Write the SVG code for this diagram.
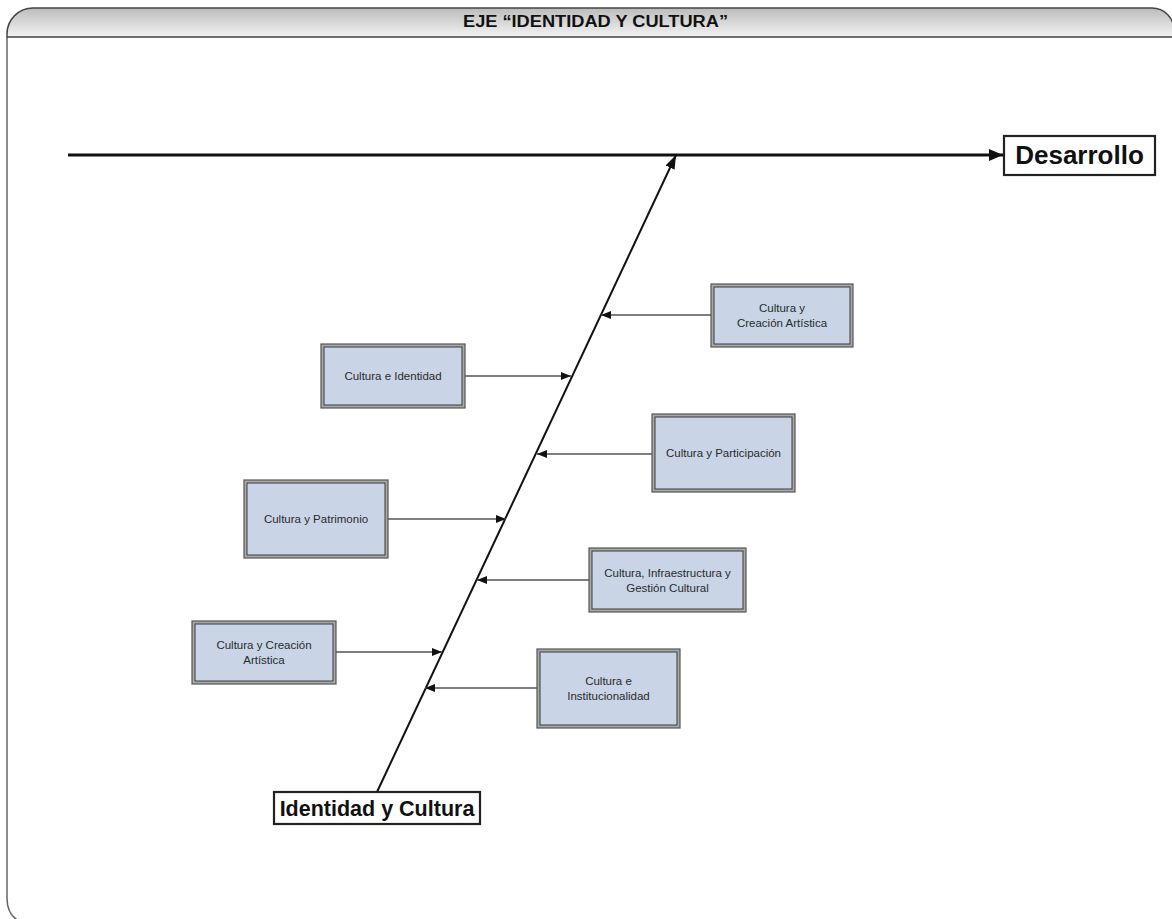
<svg xmlns="http://www.w3.org/2000/svg" width="1172" height="919" viewBox="0 0 1172 919">
<style>
.frame{fill:none;stroke:#666;stroke-width:1.5}
.hdr{fill:url(#hg);stroke:#444;stroke-width:1.5}
.title{font-family:"Liberation Sans",Arial,sans-serif;font-weight:bold;font-size:16px;fill:#111}
.outer{fill:#a9a9a9;stroke:#555;stroke-width:1.2}
.inner{fill:#c9d5e6;stroke:#3a3a3a;stroke-width:1}
.lbl{font-family:"Liberation Sans",Arial,sans-serif;font-size:11.5px;fill:#2a2a2a;text-anchor:middle}
.big{font-family:"Liberation Sans",Arial,sans-serif;font-weight:bold;fill:#111;text-anchor:middle}
.bigbox{fill:#fff;stroke:#222;stroke-width:2.2}
.branch{stroke:#555;stroke-width:1.5;fill:none}
</style>
<defs>
<linearGradient id="hg" x1="0" y1="0" x2="0" y2="1">
<stop offset="0" stop-color="#bcbcbc"/>
<stop offset="1" stop-color="#f3f3f3"/>
</linearGradient>
<marker id="aS" markerUnits="userSpaceOnUse" markerWidth="10" markerHeight="8" refX="10" refY="4" orient="auto">
<path d="M0,0 L10,4 L0,8 z" fill="#111"/>
</marker>
<marker id="aB" markerUnits="userSpaceOnUse" markerWidth="14" markerHeight="12" refX="14" refY="6" orient="auto">
<path d="M0,0 L14,6 L0,12 z" fill="#111"/>
</marker>
<marker id="aD" markerUnits="userSpaceOnUse" markerWidth="14" markerHeight="10" refX="14" refY="5" orient="auto">
<path d="M0,0 L14,5 L0,10 z" fill="#111"/>
</marker>
</defs>
<rect width="1172" height="919" fill="#fff"/>
<g id="frame">
<path class="frame" d="M7,37 V898 Q7,920 28,924"/>
<path class="hdr" d="M7,37 V34 A26,26 0 0 1 33,8 H1152 A22,22 0 0 1 1174,30 V37 Z"/>
<text class="title" x="463" y="27" textLength="265" lengthAdjust="spacingAndGlyphs">EJE “IDENTIDAD Y CULTURA”</text>
</g>
<g id="connectors">
<line x1="68" y1="155" x2="1003" y2="155" stroke="#111" stroke-width="3" marker-end="url(#aB)"/>
<line x1="377" y1="792" x2="676" y2="155" stroke="#111" stroke-width="2" marker-end="url(#aD)"/>
<line class="branch" x1="711" y1="315" x2="601" y2="315" marker-end="url(#aS)"/>
<line class="branch" x1="465" y1="376" x2="571" y2="376" marker-end="url(#aS)"/>
<line class="branch" x1="652" y1="454" x2="537" y2="454" marker-end="url(#aS)"/>
<line class="branch" x1="388" y1="519" x2="506" y2="519" marker-end="url(#aS)"/>
<line class="branch" x1="589" y1="580" x2="477" y2="580" marker-end="url(#aS)"/>
<line class="branch" x1="336" y1="652" x2="442" y2="652" marker-end="url(#aS)"/>
<line class="branch" x1="537" y1="688" x2="425" y2="688" marker-end="url(#aS)"/>
</g>
<g id="desarrollo">
<rect class="bigbox" x="1004" y="136" width="151" height="39"/>
<text class="big" x="1079.5" y="164" font-size="26">Desarrollo</text>
</g>
<g id="identidad-cultura">
<rect class="bigbox" x="274" y="792" width="206" height="32"/>
<text class="big" x="377" y="816" font-size="21.5">Identidad y Cultura</text>
</g>
<g id="r1">
<rect class="outer" x="711" y="284" width="142" height="63"/>
<rect class="inner" x="714" y="287" width="136" height="57"/>
<text class="lbl" x="782" y="312">Cultura y</text>
<text class="lbl" x="782" y="327">Creación Artística</text>
</g>
<g id="l1">
<rect class="outer" x="321" y="344" width="144" height="64"/>
<rect class="inner" x="324" y="347" width="138" height="58"/>
<text class="lbl" x="393" y="380">Cultura e Identidad</text>
</g>
<g id="r2">
<rect class="outer" x="652" y="414" width="143" height="78"/>
<rect class="inner" x="655" y="417" width="137" height="72"/>
<text class="lbl" x="723.5" y="457">Cultura y Participación</text>
</g>
<g id="l2">
<rect class="outer" x="244" y="480" width="144" height="78"/>
<rect class="inner" x="247" y="483" width="138" height="72"/>
<text class="lbl" x="316" y="523">Cultura y Patrimonio</text>
</g>
<g id="r3">
<rect class="outer" x="589" y="548" width="157" height="64"/>
<rect class="inner" x="592" y="551" width="151" height="58"/>
<text class="lbl" x="667.5" y="577">Cultura, Infraestructura y</text>
<text class="lbl" x="667.5" y="592">Gestión Cultural</text>
</g>
<g id="l3">
<rect class="outer" x="192" y="621" width="144" height="63"/>
<rect class="inner" x="195" y="624" width="138" height="57"/>
<text class="lbl" x="264" y="649">Cultura y Creación</text>
<text class="lbl" x="264" y="664">Artística</text>
</g>
<g id="r4">
<rect class="outer" x="537" y="649" width="143" height="79"/>
<rect class="inner" x="540" y="652" width="137" height="73"/>
<text class="lbl" x="608.5" y="685">Cultura e</text>
<text class="lbl" x="608.5" y="700">Institucionalidad</text>
</g>
</svg>
